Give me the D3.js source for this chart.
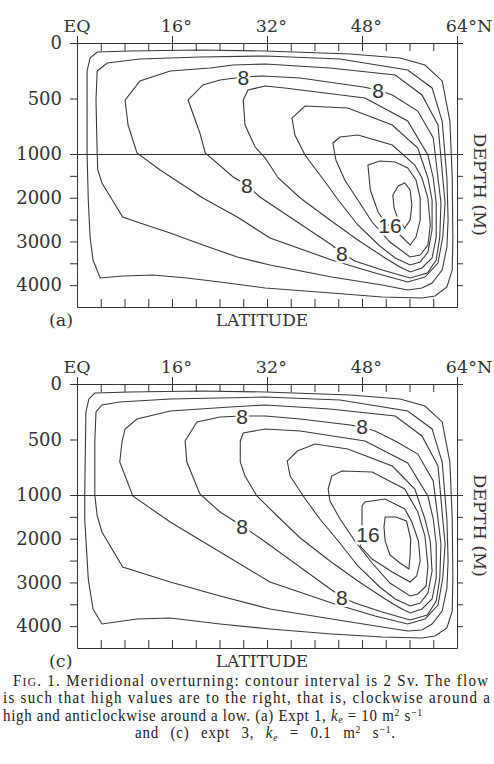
<!DOCTYPE html>
<html>
<head>
<meta charset="utf-8" />
<title>Meridional overturning</title>
<script src="https://d3js.org/d3.v7.min.js"></script>
<style>
  body { margin: 0; background: #fff; }
</style>
</head>
<body>
<svg id="fig" width="494" height="764"></svg>
<script>
// latitude ticks (deg N) and depth ticks (m)
var latTicks = [0, 4, 8, 12, 16, 20, 24, 28, 32, 36, 40, 44, 48, 52, 56, 60, 64];
var latMajor = [0, 16, 32, 48, 64];
var latNames = ["EQ", "16", "32", "48", "64"];
var latSuffix = ["", "\u00b0", "\u00b0", "\u00b0", "\u00b0N"];
var depthTicks = [0, 500, 1000, 1500, 2000, 2500, 3000, 3500, 4000];
var depthLabels = [0, 500, 1000, 2000, 3000, 4000];
var levels = [2, 4, 6, 8, 10, 12, 14, 16, 18]; // Sv

// (a) expt 1 : contour lines as [lat, depth]
var a02 = [[3.4,81],[8.9,72],[20.7,63],[31.7,72],[46.0,99],[54.4,135],[58.6,198],[61.5,342],[62.8,703],[63.2,1549],[63.3,2899],[63.2,3654],[62.3,4043],[60.3,4249],[58.1,4294],[51.4,4271],[42.9,4180],[31.7,4066],[24.1,3928],[18.5,3837],[12.8,3768],[7.7,3791],[3.9,3837],[2.7,3425],[2.2,2899],[1.9,2052],[1.7,1000],[1.7,252],[2.2,135]];
var a04 = [[3.4,252],[5.1,180],[10.6,144],[20.7,126],[31.7,117],[44.3,144],[55.7,243],[59.8,405],[61.5,703],[62.3,1549],[62.5,2510],[62.3,3128],[61.5,3654],[59.8,3951],[58.1,4066],[55.7,4111],[51.4,3997],[42.9,3814],[32.5,3539],[27.0,3356],[21.2,3082],[15.7,2807],[10.1,2556],[7.7,2441],[4.2,1663],[3.5,1366],[3.4,1000],[3.2,514]];
var a06 = [[8.1,514],[10.6,342],[15.7,252],[22.4,225],[26.3,198],[31.7,189],[42.6,225],[53.6,288],[58.1,468],[60.8,739],[61.6,1549],[62.0,2121],[61.6,2899],[60.8,3494],[58.6,3814],[55.7,3928],[50.2,3722],[42.9,3425],[32.5,2922],[27.0,2441],[21.2,2007],[14.0,1366],[10.1,991],[8.6,739]];
var a08 = [[18.7,514],[21.2,378],[24.1,333],[28.0,306],[31.3,297],[37.6,315],[48.2,396],[50.7,423],[53.1,468],[57.4,613],[60.0,856],[60.8,1549],[61.3,2121],[61.1,2899],[60.5,3425],[59.0,3722],[56.1,3837],[51.4,3654],[46.8,3448],[44.6,3265],[42.9,3082],[30.8,1984],[28.6,1710],[26.3,1526],[21.6,991],[20.7,811]];
var a10 = [[28.0,514],[28.8,423],[31.7,387],[35.0,405],[48.5,495],[55.7,703],[59.1,1023],[60.0,1549],[60.5,2121],[60.5,2899],[59.8,3379],[58.1,3608],[56.1,3699],[54.1,3562],[51.9,3379],[47.3,2967],[42.6,2510],[37.6,2007],[33.9,1549],[31.7,1092],[30.0,937],[28.3,739]];
var a12 = [[36.2,676],[38.4,568],[45.6,586],[53.1,739],[57.4,946],[59.1,1549],[59.8,2052],[59.8,2739],[59.1,3242],[57.8,3471],[56.1,3539],[53.6,3379],[51.0,3105],[47.3,2624],[44.0,2052],[41.3,1549],[38.4,1023],[36.7,829]];
var a14 = [[43.1,901],[44.3,847],[47.3,829],[53.1,919],[56.9,1252],[58.1,1549],[59.1,2007],[59.5,2624],[59.1,3082],[57.8,3311],[56.1,3356],[52.7,3013],[49.7,2556],[47.3,2052],[45.1,1595],[43.6,1137]];
var a16 = [[49.0,1252],[51.0,1160],[53.6,1183],[55.7,1320],[57.1,1595],[57.8,2007],[57.8,2510],[57.1,2899],[56.1,3082],[54.4,2853],[51.9,2556],[50.7,2327],[49.4,1824]];
var a18 = [[53.2,1938],[54.1,1732],[55.2,1663],[56.1,1824],[56.4,2167],[56.1,2510],[55.2,2693],[54.1,2510],[53.4,2235]];
var labelsA = [
  {lat: 28.0, depth: 306, text: "8"},
  {lat: 50.7, depth: 423, text: "8"},
  {lat: 28.6, depth: 1710, text: "8"},
  {lat: 44.6, depth: 3265, text: "8"},
  {lat: 52.7, depth: 2624, text: "16"}
];

// (c) expt 3
var c02 = [[3.0,81],[8.9,72],[20.7,63],[31.7,72],[46.0,99],[54.4,135],[58.6,198],[61.5,342],[62.8,703],[63.2,1549],[63.3,2899],[63.2,3654],[62.3,4043],[60.3,4226],[58.1,4271],[51.4,4249],[42.9,4180],[32.5,4066],[24.1,3951],[15.7,3814],[10.1,3837],[4.2,3951],[2.7,3608],[1.9,2922],[1.3,1549],[1.3,1000],[1.5,252],[2.0,135]];
var c04 = [[3.2,252],[4.2,189],[7.2,162],[15.7,135],[31.7,117],[44.3,144],[55.7,243],[59.8,405],[61.5,703],[62.3,1549],[62.5,2510],[62.3,3128],[61.5,3654],[59.8,3951],[58.1,4089],[55.7,4111],[51.4,4020],[42.9,3837],[32.5,3608],[24.1,3311],[15.7,2990],[7.7,2647],[4.2,1846],[3.4,1480],[3.0,1000],[3.0,514]];
var c06 = [[7.6,514],[7.2,703],[9.4,1023],[15.7,1618],[24.1,2304],[32.5,2990],[42.9,3471],[50.2,3768],[55.7,3951],[58.6,3837],[60.8,3517],[61.6,2899],[62.0,2121],[61.6,1549],[60.8,739],[58.1,468],[53.6,288],[42.6,225],[31.7,189],[25.8,207],[15.7,243],[10.1,315],[8.1,405]];
var c08 = [[18.2,514],[20.2,342],[24.1,297],[27.8,288],[31.7,288],[37.6,315],[46.0,369],[48.0,387],[50.2,423],[53.6,514],[57.4,631],[60.0,874],[60.8,1549],[61.3,2121],[61.1,2899],[60.5,3425],[59.0,3745],[56.1,3860],[51.4,3677],[46.8,3471],[44.6,3334],[42.9,3173],[30.8,1984],[27.8,1709],[24.1,1389],[20.7,991],[18.5,703]];
var c10 = [[27.5,514],[28.0,441],[31.7,405],[37.6,423],[48.5,514],[55.7,712],[59.1,1023],[60.0,1549],[60.5,2121],[60.5,2899],[59.8,3379],[58.1,3608],[56.1,3699],[54.1,3562],[51.9,3379],[47.3,2967],[42.6,2510],[37.6,1984],[33.9,1503],[30.3,1023],[28.3,829],[27.5,703]];
var c12 = [[35.4,694],[37.1,604],[40.1,541],[45.6,586],[53.1,739],[56.9,946],[58.6,1549],[59.5,2052],[59.8,2739],[59.1,3242],[57.8,3471],[56.1,3539],[53.6,3379],[51.0,3105],[47.3,2624],[44.0,2052],[40.9,1549],[38.1,1023],[35.9,829]];
var c14 = [[42.3,946],[42.9,829],[44.6,784],[49.7,793],[55.2,946],[57.4,1389],[58.6,1938],[59.1,2624],[58.8,3082],[57.4,3265],[56.1,3311],[52.7,3013],[49.7,2556],[46.8,2052],[44.3,1549],[42.6,1137]];
var c16 = [[48.0,1252],[48.5,1160],[51.9,1092],[55.2,1320],[56.4,1618],[57.5,2052],[57.8,2510],[57.2,2853],[56.1,2990],[53.1,2761],[49.7,2464],[47.7,2167],[48.0,1709]];
var c18 = [[51.9,1503],[53.7,1503],[55.5,1595],[56.2,2007],[56.1,2395],[55.9,2693],[54.4,2556],[52.7,2373],[51.9,2052],[51.7,1732]];
var labelsC = [
  {lat: 27.8, depth: 288, text: "8"},
  {lat: 48.0, depth: 383, text: "8"},
  {lat: 27.8, depth: 1720, text: "8"},
  {lat: 44.6, depth: 3345, text: "8"},
  {lat: 49.0, depth: 1892, text: "16"}
];

var panelA = [a02, a04, a06, a08, a10, a12, a14, a16, a18];
var panelC = [c02, c04, c06, c08, c10, c12, c14, c16, c18];

var svg = d3.select("#fig");
var ink = "#333";
var serif = "DejaVu Serif, serif";

var x = d3.scaleLinear().domain([0, 64]).range([77, 457]);
var y = d3.scaleLinear().domain([0, 1000, 4500]).range([43, 154, 307]);

var line = d3.line()
  .x(function (d) { return x(d[0]); })
  .y(function (d) { return y(d[1]); })
  .curve(d3.curveLinearClosed);

function styleAxis(g) {
  g.selectAll("path, line").attr("stroke", ink).attr("stroke-width", 1);
  g.selectAll("text").attr("fill", ink).attr("font-family", serif).attr("font-size", 18);
}

function drawPanel(top, contours, labels, tag) {
  var g = svg.append("g").attr("transform", "translate(0," + top + ")");

  // contour lines
  g.selectAll("path.contour")
    .data(contours)
    .enter().append("path")
    .attr("class", "contour")
    .attr("d", line)
    .attr("fill", "none")
    .attr("stroke", "#3a3a3a")
    .attr("stroke-width", 1.1);

  // contour labels, with a white halo breaking the line
  g.selectAll("text.clab")
    .data(labels)
    .enter().append("text")
    .attr("class", "clab")
    .attr("x", function (d) { return x(d.lat); })
    .attr("y", function (d) { return y(d.depth); })
    .attr("dy", "0.36em")
    .attr("text-anchor", "middle")
    .attr("font-family", "Liberation Sans, Arial, sans-serif")
    .attr("font-size", 21)
    .attr("fill", ink)
    .attr("stroke", "#fff")
    .attr("stroke-width", 5)
    .attr("paint-order", "stroke")
    .text(function (d) { return d.text; });

  // 1000 m line
  g.append("line")
    .attr("x1", x(0)).attr("x2", x(64))
    .attr("y1", y(1000) + 0.5).attr("y2", y(1000) + 0.5)
    .attr("stroke", ink);

  // top: minor ticks inside, major ticks also outside
  g.append("g").attr("transform", "translate(0," + y(0) + ")")
    .call(d3.axisBottom(x).tickValues(latTicks).tickSize(8).tickSizeOuter(0).tickFormat(""))
    .call(styleAxis);
  g.append("g").attr("transform", "translate(0," + y(0) + ")")
    .call(d3.axisTop(x).tickValues(latMajor).tickSize(7).tickSizeOuter(0).tickFormat(""))
    .call(styleAxis);
  // bottom
  g.append("g").attr("transform", "translate(0," + y(4500) + ")")
    .call(d3.axisTop(x).tickValues(latTicks).tickSize(8).tickSizeOuter(0).tickFormat(""))
    .call(styleAxis);
  // left
  g.append("g").attr("transform", "translate(" + x(0) + ",0)")
    .call(d3.axisLeft(y).tickValues(depthTicks).tickSize(7).tickSizeOuter(0).tickPadding(8)
      .tickFormat(function (d) { return depthLabels.indexOf(d) >= 0 ? d : ""; }))
    .call(styleAxis);
  // right
  g.append("g").attr("transform", "translate(" + x(64) + ",0)")
    .call(d3.axisRight(y).tickValues(depthTicks).tickSize(6).tickSizeOuter(0).tickFormat(""))
    .call(styleAxis);

  // latitude labels: digits centred on the tick, degree sign after
  latMajor.forEach(function (lat, i) {
    var t = g.append("text")
      .attr("x", x(lat)).attr("y", 32)
      .attr("text-anchor", "middle")
      .attr("font-family", serif).attr("font-size", 17.5).attr("fill", ink)
      .text(latNames[i]);
    if (latSuffix[i]) {
      var w = t.node().getComputedTextLength();
      g.append("text")
        .attr("x", x(lat) + w / 2).attr("y", 32)
        .attr("font-family", serif).attr("font-size", 17.5).attr("fill", ink)
        .text(latSuffix[i]);
    }
  });

  g.append("text")
    .attr("x", 262).attr("y", 326)
    .attr("text-anchor", "middle")
    .attr("font-family", serif).attr("font-size", 17).attr("fill", ink)
    .text("LATITUDE");

  g.append("text")
    .attr("x", 49).attr("y", 326)
    .attr("font-family", serif).attr("font-size", 17.5).attr("fill", ink)
    .text(tag);

  g.append("text")
    .attr("transform", "translate(474," + y(1700) + ") rotate(90)")
    .attr("text-anchor", "middle")
    .attr("font-family", serif).attr("font-size", 17.5).attr("fill", ink)
    .text("DEPTH (M)");
}

drawPanel(0, panelA, labelsA, "(a)");
drawPanel(341, panelC, labelsC, "(c)");

// caption: the printed face is narrow, so squeeze the group horizontally
var sx = 0.88;
var cap = svg.append("g")
  .attr("transform", "scale(" + sx + ",1)")
  .attr("font-family", "Liberation Serif, Times New Roman, serif")
  .attr("font-size", 17)
  .attr("fill", "#222");

function supTo(t, txt, shift) {
  t.append("tspan").attr("font-size", 11).attr("baseline-shift", shift).text(txt);
}

var l1 = cap.append("text").attr("x", 13 / sx).attr("y", 686.5)
  .attr("textLength", 475 / sx).attr("lengthAdjust", "spacing");
l1.append("tspan").text("F");
l1.append("tspan").attr("font-size", 13).text("IG");
l1.append("tspan").text(". 1. Meridional overturning: contour interval is 2 Sv. The flow");

cap.append("text").attr("x", 3 / sx).attr("y", 703.5)
  .attr("textLength", 487 / sx).attr("lengthAdjust", "spacing")
  .text("is such that high values are to the right, that is, clockwise around a");

var l3 = cap.append("text").attr("x", 3 / sx).attr("y", 721)
  .attr("textLength", 419 / sx).attr("lengthAdjust", "spacing");
l3.append("tspan").text("high and anticlockwise around a low. (a) Expt 1, ");
l3.append("tspan").attr("font-style", "italic").text("k");
l3.append("tspan").attr("font-style", "italic").attr("font-size", 11).attr("baseline-shift", "-2").text("e");
l3.append("tspan").text(" = 10 m");
supTo(l3, "2", "5");
l3.append("tspan").text(" s");
supTo(l3, "\u22121", "5");

var l4 = cap.append("text").attr("x", 135 / sx).attr("y", 738.5)
  .attr("word-spacing", 8)
  .attr("textLength", 260 / sx).attr("lengthAdjust", "spacing");
l4.append("tspan").text("and (c) expt 3, ");
l4.append("tspan").attr("font-style", "italic").text("k");
l4.append("tspan").attr("font-style", "italic").attr("font-size", 11).attr("baseline-shift", "-2").text("e");
l4.append("tspan").text(" = 0.1 m");
supTo(l4, "2", "5");
l4.append("tspan").text(" s");
supTo(l4, "\u22121", "5");
l4.append("tspan").text(".");
</script>
</body>
</html>
